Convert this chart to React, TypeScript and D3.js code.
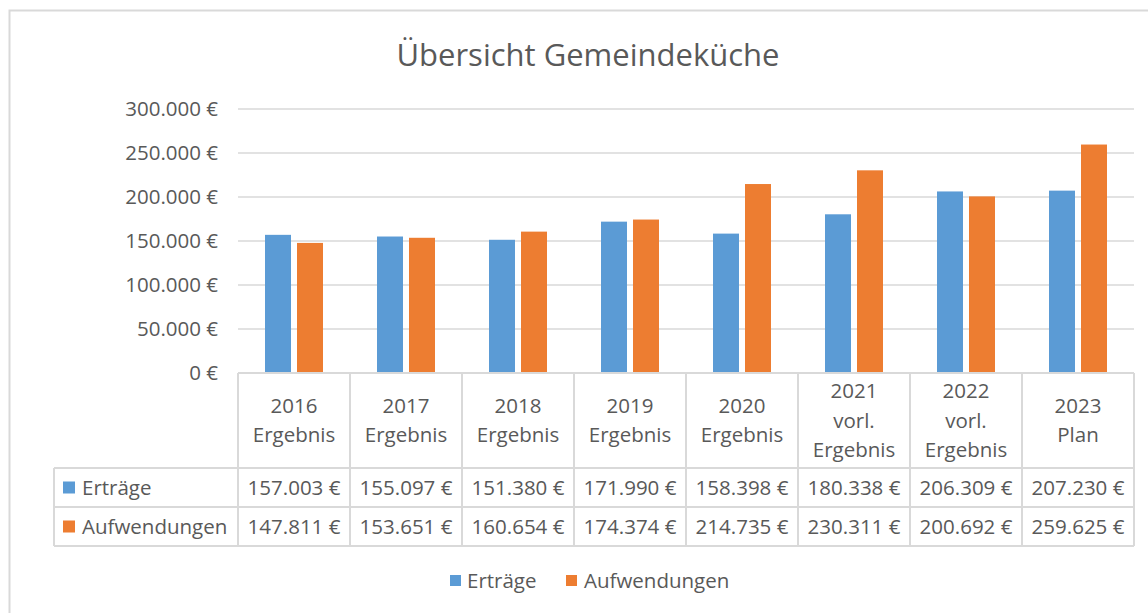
import React from 'react';
import * as d3 from 'd3';

const categories = ['2016 Ergebnis', '2017 Ergebnis', '2018 Ergebnis', '2019 Ergebnis', '2020 Ergebnis', '2021 vorl. Ergebnis', '2022 vorl. Ergebnis', '2023 Plan'];
const headerLines = [['2016', 'Ergebnis'], ['2017', 'Ergebnis'], ['2018', 'Ergebnis'], ['2019', 'Ergebnis'], ['2020', 'Ergebnis'], ['2021', 'vorl.', 'Ergebnis'], ['2022', 'vorl.', 'Ergebnis'], ['2023', 'Plan']];
const seriesNames = ['Erträge', 'Aufwendungen'];
const ertraege = [157003, 155097, 151380, 171990, 158398, 180338, 206309, 207230];
const aufwendungen = [147811, 153651, 160654, 174374, 214735, 230311, 200692, 259625];
const yTicks = [0, 50000, 100000, 150000, 200000, 250000, 300000];
const colors = ['#5B9BD5', '#ED7D31'];

const W = 1148, H = 613;
const plotLeft = 238, plotRight = 1134, plotTop = 109, plotBottom = 373;
const font = '"Open Sans", Lato, sans-serif';
const textCol = '#595959';
const gridCol = '#D9D9D9';
const fs = 20.5;

const fmt = (v: number) => d3.format(',')(v).replace(/,/g, '.') + ' €';

export default function App() {
  const x = d3.scaleBand().domain(categories).range([plotLeft, plotRight]);
  const x1 = d3.scaleBand().domain(seriesNames).range([0, x.bandwidth()]).paddingInner(0.1875).paddingOuter(0.84375);
  const y = d3.scaleLinear().domain([0, 300000]).range([plotBottom, plotTop]);
  const values = [ertraege, aufwendungen];

  const headerBottom = 468, row1Bottom = 507, row2Bottom = 546, tableLeft = 54;
  const rowMid = [(headerBottom + row1Bottom) / 2, (row1Bottom + row2Bottom) / 2];

  return (
    <svg width={W} height={H} style={{ position: 'absolute', left: 0, top: 0 }} fontFamily={font}>
      <rect x={0} y={0} width={W} height={H} fill="white" />
      <rect x={9.5} y={10.5} width={W + 10} height={H + 10} fill="none" stroke={gridCol} strokeWidth={2} />
      <text x={588} y={66} textAnchor="middle" fontSize={31} fill={textCol}>Übersicht Gemeindeküche</text>

      {yTicks.map(t => (
        <g key={t}>
          {t > 0 && <line x1={plotLeft} x2={plotRight} y1={y(t)} y2={y(t)} stroke={gridCol} strokeWidth={1.5} />}
          <text x={218} y={y(t)} dy="0.35em" textAnchor="end" fontSize={fs} fill={textCol}>{fmt(t)}</text>
        </g>
      ))}

      {values.map((vals, si) => vals.map((v, i) => (
        <rect key={si + '-' + i}
          x={(x(categories[i]) ?? 0) + (x1(seriesNames[si]) ?? 0)}
          y={y(v)} width={x1.bandwidth()} height={plotBottom - y(v)}
          fill={colors[si]} />
      )))}

      {/* data table */}
      <g stroke={gridCol} strokeWidth={2} fill="none">
        {categories.map(c => (
          <line key={c} x1={x(c)} x2={x(c)} y1={plotBottom} y2={row2Bottom} />
        ))}
        <line x1={plotRight} x2={plotRight} y1={plotBottom} y2={row2Bottom} />
        <line x1={tableLeft} x2={tableLeft} y1={headerBottom} y2={row2Bottom} />
        <line x1={plotLeft} x2={plotRight} y1={plotBottom} y2={plotBottom} />
        <line x1={tableLeft} x2={plotRight} y1={headerBottom} y2={headerBottom} />
        <line x1={tableLeft} x2={plotRight} y1={row1Bottom} y2={row1Bottom} />
        <line x1={tableLeft} x2={plotRight} y1={row2Bottom} y2={row2Bottom} />
      </g>

      {categories.map((c, i) => {
        const lines = headerLines[i];
        const cx = (x(c) ?? 0) + x.bandwidth() / 2;
        const lh = 29.5;
        const mid = (plotBottom + headerBottom) / 2;
        return (
          <text key={c} textAnchor="middle" fontSize={fs} fill={textCol}>
            {lines.map((l, j) => (
              <tspan key={j} x={cx} y={mid + (j - (lines.length - 1) / 2) * lh} dy="0.35em">{l}</tspan>
            ))}
          </text>
        );
      })}

      {values.map((vals, si) => (
        <g key={si}>
          <rect x={63} y={rowMid[si] - 6} width={12} height={12} fill={colors[si]} />
          <text x={82} y={rowMid[si]} dy="0.35em" fontSize={fs} fill={textCol}>{seriesNames[si]}</text>
          {vals.map((v, i) => (
            <text key={i} x={(x(categories[i]) ?? 0) + x.bandwidth() / 2} y={rowMid[si]} dy="0.35em"
              textAnchor="middle" fontSize={fs} fill={textCol}>{fmt(v)}</text>
          ))}
        </g>
      ))}

      {/* legend */}
      <g>
        <rect x={450} y={575} width={11} height={11} fill={colors[0]} />
        <text x={467} y={581} dy="0.35em" fontSize={fs} fill={textCol}>{seriesNames[0]}</text>
        <rect x={566} y={575} width={11} height={11} fill={colors[1]} />
        <text x={584} y={581} dy="0.35em" fontSize={fs} fill={textCol}>{seriesNames[1]}</text>
      </g>
    </svg>
  );
}
